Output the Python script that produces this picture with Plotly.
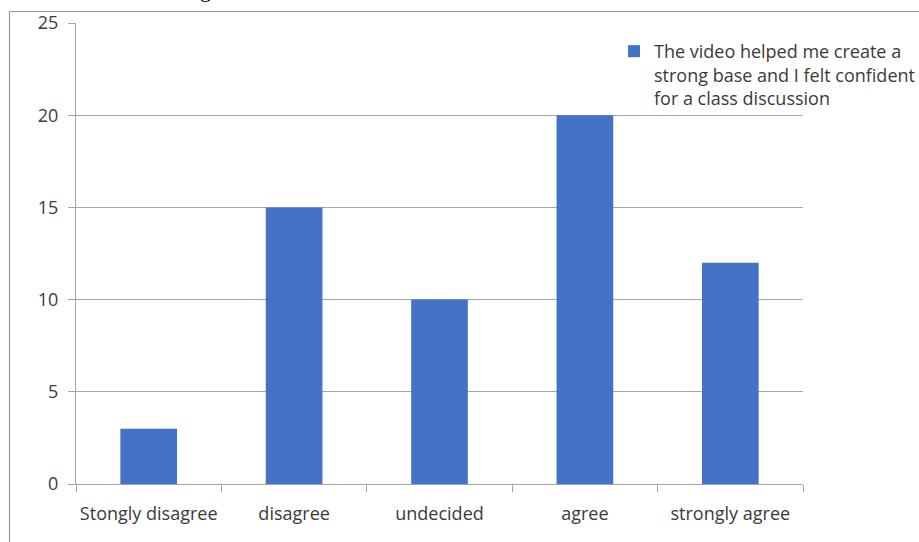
import plotly.graph_objects as go

categories = ["Stongly disagree", "disagree", "undecided", "agree", "strongly agree"]
values = [3, 15, 10, 20, 12]
series_name = "The video helped me create a<br>strong base and I felt confident<br>for a class discussion"
y_ticks = [0, 5, 10, 15, 20, 25]

W, H = 919, 542
L, R, T, B = 76, 803, 23, 484
pw, ph = R - L, B - T

def px_x(p):
    return (p - L) / pw

def px_y(p):
    return (B - p) / ph

fig = go.Figure()
fig.add_trace(go.Bar(
    x=categories, y=values, name=series_name,
    marker=dict(color="#4472C4", line=dict(width=0)),
    width=0.39, showlegend=True,
))

grid = "#A6A6A6"
txt = "#3A3A3A"
fs = 18
fig.update_layout(
    width=W, height=H,
    margin=dict(l=L, r=W - R, t=T, b=H - B, pad=0, autoexpand=False),
    paper_bgcolor="white", plot_bgcolor="white",
    font=dict(family="Open Sans, sans-serif", size=fs, color=txt),
    showlegend=True,
    legend=dict(
        x=px_x(614), y=px_y(33), xanchor="left", yanchor="top",
        font=dict(size=fs, color=txt),
        bgcolor="rgba(0,0,0,0)", itemwidth=30, tracegroupgap=0,
        valign="top",
    ),
    bargap=0.61,
    xaxis=dict(
        type="category", showgrid=False, showline=True, linecolor=grid, linewidth=1,
        ticks="outside", tickson="boundaries", ticklen=7, tickcolor=grid,
        tickfont=dict(size=fs, color=txt), zeroline=False,
        ticklabelstandoff=13, tickangle=0, automargin=False,
    ),
    yaxis=dict(
        range=[0, 25], tickvals=y_ticks, showgrid=True, gridcolor=grid, gridwidth=1,
        showline=True, linecolor=grid, linewidth=1,
        ticks="outside", ticklen=7, tickcolor=grid,
        tickfont=dict(size=fs, color=txt), zeroline=False,
        ticklabelstandoff=6, automargin=False,
    ),
    shapes=[
        dict(type="line", xref="paper", yref="paper", x0=px_x(9.5), x1=px_x(925), y0=px_y(11.5), y1=px_y(11.5),
             line=dict(color="#999999", width=1.2)),
        dict(type="line", xref="paper", yref="paper", x0=px_x(9.5), x1=px_x(9.5), y0=px_y(11.5), y1=px_y(550),
             line=dict(color="#999999", width=1.2)),
    ],
    annotations=[
        dict(text="g", xref="paper", yref="paper", x=px_x(205), y=px_y(-10), xanchor="center", yanchor="middle",
             showarrow=False, font=dict(family="Liberation Serif", size=22, color="black")),
    ],
)

fig.write_html("out.html")
